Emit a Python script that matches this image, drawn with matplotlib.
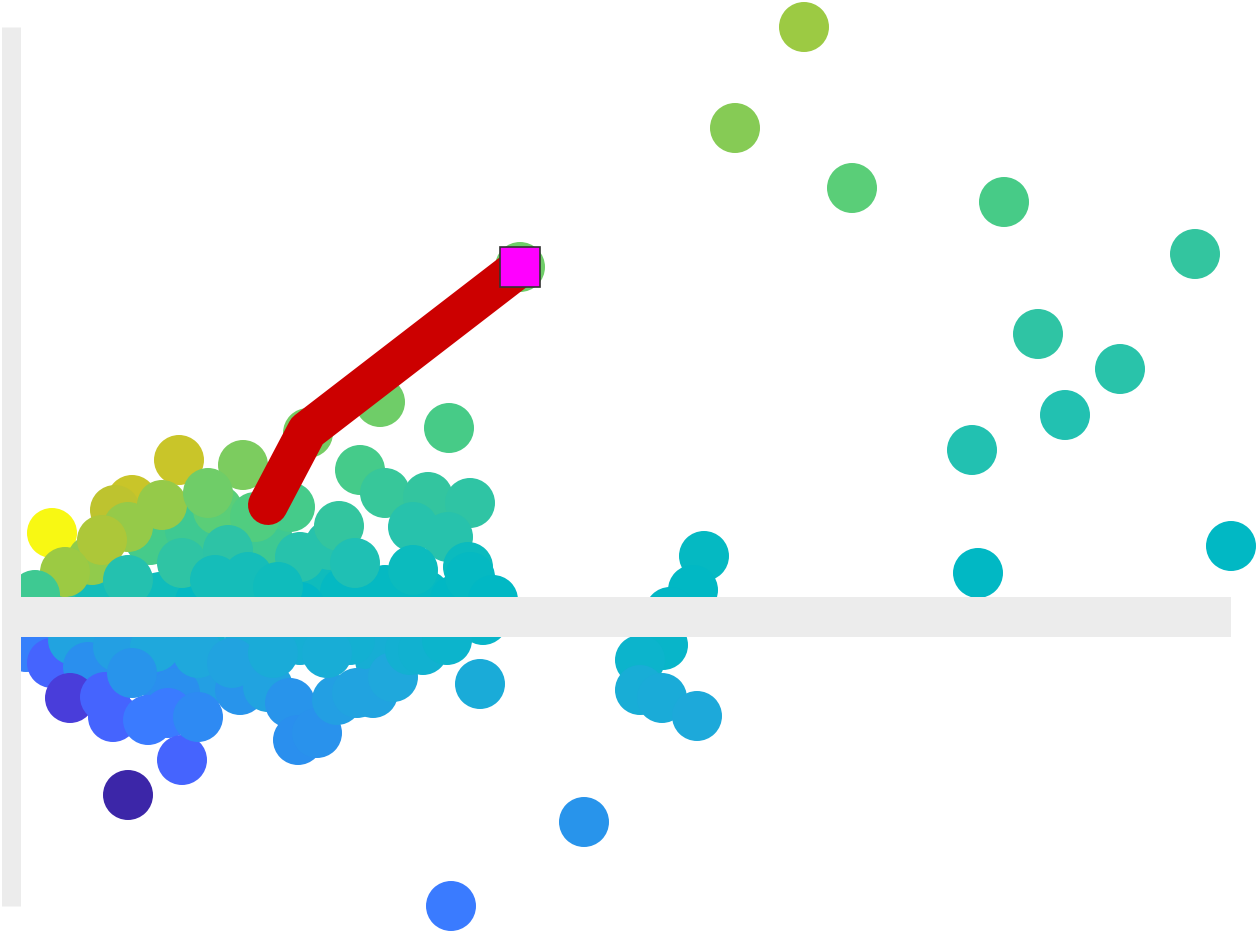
import numpy as np
import matplotlib
matplotlib.use("Agg")
import matplotlib.pyplot as plt
from matplotlib.colors import LinearSegmentedColormap
from matplotlib.patches import Rectangle

# point positions and colour value (0 = indigo ... 1 = yellow), drawn in order
PTS_X = [1.29, 2.47, 2.89, 3.24, 3.64, 4.04, 0.39, 0.79, 1.39, 1.79,
         2.19, 4.34, 0.00, 2.79, 1.69, 3.09,
         0.05, 1.89, 2.19, 3.59, 1.79, 0.79, 2.79, 2.29, 3.29, 1.42,
         7.83, 7.14, 8.31, 9.83, 11.74, 10.17, 10.99, 10.44, 9.51, 9.57,
         12.10, 6.83, 6.72, 6.49, 6.42, 6.19, 6.19, 6.41, 6.76, 5.63,
         4.30, 4.59, 4.62, 4.99, 3.59, 4.28, 2.87, 3.39, 3.64, 4.07,
         4.49, 3.92, 4.27, 3.18, 2.79, 3.34, 3.92, 4.47, 4.49, 2.69,
         4.72, 1.58, 2.22, 0.31, 1.11, 0.94, 1.41, 1.07, 0.71, 0.81,
         0.44, 1.97, 1.87, 2.34, 1.61, 2.07, 1.07, 1.94, 0.14, 2.27,
         2.57,
         0.31, 0.52, 0.67, 0.49, 0.84, 0.92, 1.27, 1.54, 1.47, 1.61,
         1.07, 1.77, 1.77, 0.97, 1.34, 1.11, 2.11, 2.47, 2.69, 2.77,
         2.96, 3.16, 3.36, 3.52, 3.72, 3.89, 4.02, 4.26, 2.52, 3.06]
PTS_Y = [0.77, 0.77, 0.37, 0.25, 0.27, 0.22, 0.15, 0.17, 0.20, 0.15,
         0.17, 0.17, 0.12, 0.10, 0.87, 0.72,
         -0.30, -0.63, -0.73, -0.43, -0.23, -0.28, -0.23, -0.23, -0.23, -0.63,
         5.90, 4.89, 4.29, 4.15, 3.63, 2.83, 2.48, 2.02, 1.67, 0.44,
         0.71, 0.61, 0.27, 0.05, -0.28, -0.43, -0.73, -0.81, -0.99, -2.05,
         -2.89, -0.67, -0.03, 3.50, 2.15, 1.89, 1.84, 1.47, 1.24, 1.20,
         1.14, 0.90, 0.80, 0.91, 0.60, 0.54, 0.47, 0.50, 0.40, 1.10,
         0.17, 1.57, 1.52, 0.84, 1.17, 1.07, 1.12, 0.90, 0.57, 0.77,
         0.45, 1.07, 1.24, 1.00, 0.54, 0.67, 0.37, 0.37, 0.22, 0.40,
         0.30,
         -0.46, -0.23, -0.50, -0.81, -0.80, -1.00, -1.03, -0.76, -0.96, -1.43,
         -1.78, -1.00, -0.36, -0.30, -0.30, -0.56, -0.46, -0.70, -0.86, -1.23,
         -1.16, -0.83, -0.76, -0.76, -0.60, -0.33, -0.33, -0.23, -0.36, -0.36]
PTS_C = [0.72, 0.70, 0.57, 0.55, 0.55, 0.55, 0.64, 0.58, 0.57, 0.55,
         0.55, 0.54, 0.66, 0.53, 0.70, 0.63,
         0.24, 0.36, 0.32, 0.44, 0.44, 0.36, 0.44, 0.42, 0.45, 0.28,
         0.90, 0.86, 0.78, 0.73, 0.67, 0.66, 0.64, 0.61, 0.61, 0.54,
         0.54, 0.55, 0.54, 0.53, 0.50, 0.48, 0.43, 0.42, 0.41, 0.32,
         0.22, 0.42, 0.50, 0.82, 0.82, 0.73, 0.83, 0.72, 0.68, 0.67,
         0.66, 0.63, 0.63, 0.67, 0.63, 0.60, 0.56, 0.56, 0.55, 0.72,
         0.54, 0.95, 0.84, 1.00, 0.95, 0.94, 0.89, 0.89, 0.88, 0.92,
         0.90, 0.78, 0.82, 0.75, 0.66, 0.65, 0.62, 0.58, 0.70, 0.58,
         0.57,
         0.14, 0.38, 0.30, 0.07, 0.14, 0.14, 0.22, 0.30, 0.22, 0.14,
         0.00, 0.28, 0.40, 0.36, 0.40, 0.32, 0.38, 0.38, 0.32, 0.30,
         0.31, 0.36, 0.38, 0.38, 0.40, 0.45, 0.46, 0.48, 0.42, 0.43]

# highlighted path, ends on the square marker
PATH_X = [2.47, 2.86, 4.99]
PATH_Y = [1.12, 1.86, 3.50]

CMAP_NODES = [
    (0.00, "#3c26a8"), (0.07, "#4a3edd"), (0.14, "#4566ff"), (0.22, "#3a7bff"),
    (0.30, "#2a90ee"), (0.40, "#1fa8dc"), (0.48, "#0cb4cc"), (0.54, "#00b8c4"),
    (0.60, "#1fc0b4"), (0.66, "#2fc4a4"), (0.72, "#44cb8a"), (0.78, "#5ace78"),
    (0.84, "#7acc60"), (0.90, "#9aca44"), (0.95, "#c6c22a"), (1.00, "#f8f813"),
]

BAR_COLOR = "#ececec"
PX = 0.72  # points per pixel at dpi 100


def main():
    x = np.array(PTS_X)
    y = np.array(PTS_Y)
    cmap = LinearSegmentedColormap.from_list("ramp", CMAP_NODES)

    fig = plt.figure(figsize=(12.59, 9.34), dpi=100, facecolor="white")
    ax = fig.add_axes([21 / 1259, 28 / 934, 1210 / 1259, 879 / 934])
    ax.set_facecolor("white")

    pts = ax.scatter(x, y, c=PTS_C, cmap=cmap, vmin=0, vmax=1,
                     s=(50 * PX) ** 2, linewidths=0, zorder=1)
    # markers are cut only at the left edge of the plot area
    clip = Rectangle((0, -0.5), 1.5, 2.0, transform=ax.transAxes)
    pts.set_clip_path(clip)

    ax.plot(PATH_X, PATH_Y, color="#cc0000", lw=40 * PX,
            solid_capstyle="round", solid_joinstyle="round", zorder=3)
    ax.plot(PATH_X[-1], PATH_Y[-1], marker="s", ms=40 * PX,
            mfc="#ff00ff", mec="#333333", mew=1.2, zorder=4, clip_on=False)

    ax.set_xlim(x.min(), x.max())
    ax.set_ylim(y.min(), y.max())

    # thick pale axis bars
    for side in ("top", "right"):
        ax.spines[side].set_visible(False)
    left = ax.spines["left"]
    left.set_position(("outward", 9.5 * PX))
    left.set_bounds(y.min(), y.max())
    left.set_linewidth(19 * PX)
    left.set_color(BAR_COLOR)
    left.set_capstyle("butt")
    bottom = ax.spines["bottom"]
    bottom.set_position(("data", 0))
    bottom.set_bounds(x.min(), x.max())
    bottom.set_linewidth(40 * PX)
    bottom.set_color(BAR_COLOR)
    bottom.set_capstyle("butt")
    ax.set_xticks([])
    ax.set_yticks([])

    fig.savefig("out.png", dpi=100, facecolor="white")
    plt.close(fig)


if __name__ == "__main__":
    main()
